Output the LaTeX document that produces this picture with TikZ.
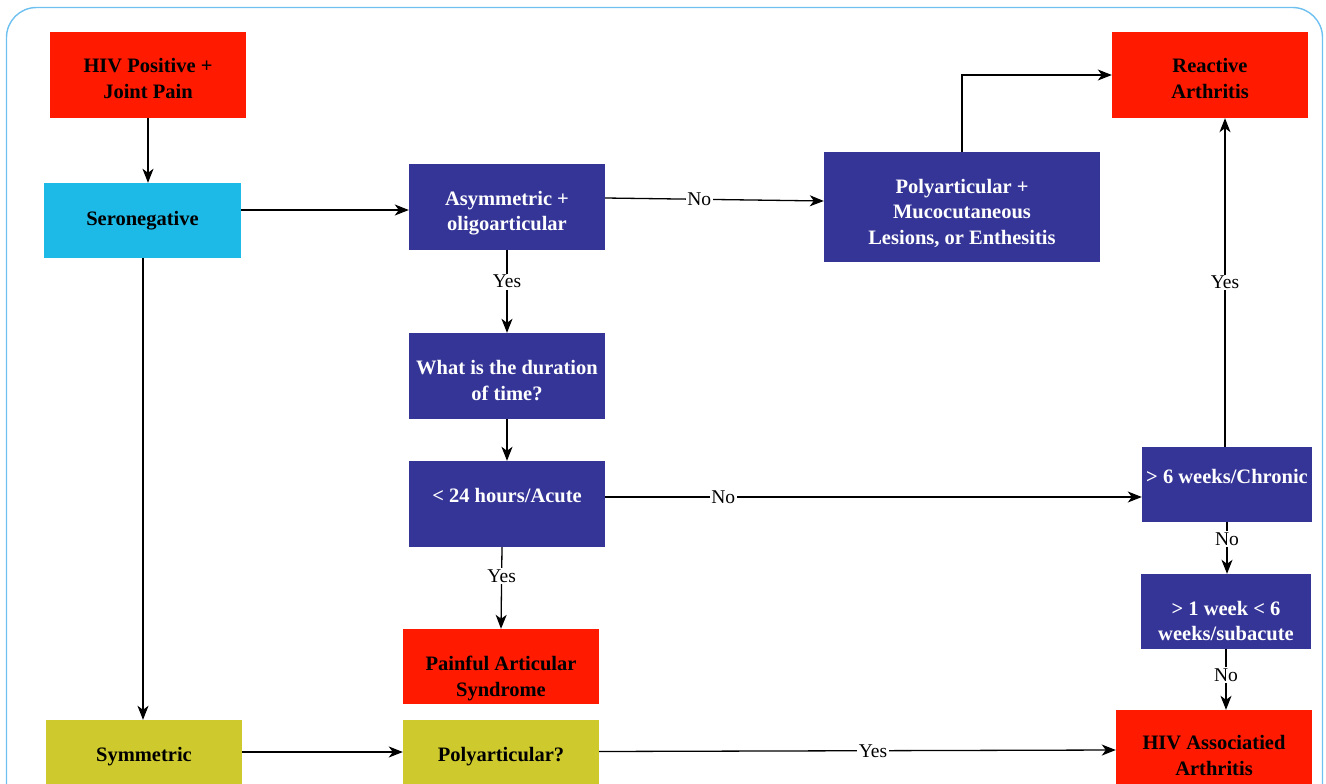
\documentclass[tikz,border=0pt]{standalone}
\usepackage{fontspec}
\setmainfont{Liberation Serif}
\usetikzlibrary{arrows.meta}
\definecolor{cRed}{RGB}{255,26,0}
\definecolor{cCyan}{RGB}{29,186,232}
\definecolor{cBlue}{RGB}{53,53,152}
\definecolor{cOlive}{RGB}{206,201,45}
\definecolor{cBorder}{RGB}{110,192,240}
\tikzset{
  box/.style={inner sep=0pt, align=center, font=\bfseries\fontsize{20.5}{25.5}\selectfont,
              minimum width=196pt, minimum height=86pt, text depth=0pt},
  redbox/.style={box, fill=cRed, text=black},
  cyanbox/.style={box, fill=cCyan, text=black},
  bluebox/.style={box, fill=cBlue, text=white},
  olivebox/.style={box, fill=cOlive, text=black},
  lbl/.style={fill=white, inner sep=1.5pt, font=\fontsize{19.5}{20}\selectfont},
  arr/.style={line width=1.3pt, -{Stealth[length=14pt,width=11pt,inset=4pt]}},
}
\begin{document}
\begin{tikzpicture}[x=1pt,y=-1pt]
\useasboundingbox (0,0) rectangle (1326,784);
\clip (0,0) rectangle (1326,784);
\draw[cBorder, line width=1.4pt, rounded corners=30pt] (6.5,7.5) rectangle (1322.5,840);

\node[redbox, text height=46.6pt] (hiv) at (148,75) {HIV Positive +\\Joint Pain};
\node[cyanbox, minimum width=197pt, minimum height=75pt, text height=9pt] (sero) at (142.5,220.5) {Seronegative};
\node[bluebox, text height=47.4pt] (asym) at (507,207) {Asymmetric +\\oligoarticular};
\node[bluebox, minimum width=276pt, minimum height=110pt, text height=74.6pt] (polym) at (962,207) {Polyarticular +\\Mucocutaneous\\Lesions, or Enthesitis};
\node[redbox, text height=46.6pt] (react) at (1210,75) {Reactive\\Arthritis};
\node[bluebox, text height=48pt] (dur) at (507,376) {What is the duration\\of time?};
\node[bluebox, text height=0pt, text depth=2.6pt] (acute) at (507,504) {< 24 hours/Acute};
\node[bluebox, minimum width=170pt, minimum height=75pt, text height=0pt, text depth=2.4pt] (chronic) at (1227,484.5) {> 6 weeks/Chronic};
\node[bluebox, minimum width=170pt, minimum height=75pt, text height=58pt] (sub) at (1226,611.5) {> 1 week < 6\\weeks/subacute};
\node[redbox, minimum height=75pt, text height=59pt] (painful) at (501,666.5) {Painful Articular\\Syndrome};
\node[redbox, text height=44pt] (hivaa) at (1214,753) {HIV Associatied\\Arthritis};
\node[olivebox, minimum height=75pt, text height=8.4pt] (sym) at (144,757.5) {Symmetric};
\node[olivebox, minimum height=75pt, text height=8.4pt] (polq) at (501,757.5) {Polyarticular?};

\draw[arr] (hiv.south) -- (hiv.south |- sero.north);
\draw[arr] ([yshift=10.5pt]sero.east) -- ([yshift=-3pt]asym.west);
\draw[arr] ([yshift=9pt]asym.east) -- node[lbl, pos=0.43]{No} ([yshift=6pt]polym.west);
\draw[arr] (polym.north) |- (react.west);
\draw[arr] (asym.south) -- node[lbl, pos=0.38]{Yes} (dur.north);
\draw[arr] (dur.south) -- (acute.north);
\draw[arr] ([yshift=7pt]acute.east) -- node[lbl, pos=0.22]{No} ([yshift=-12.5pt]chronic.west);
\draw[arr] ([xshift=-2pt]chronic.north) -- node[lbl]{Yes} ([xshift=15pt]react.south);
\draw[arr] (chronic.south) -- node[lbl, pos=0.32]{No} (chronic.south |- sub.north);
\draw[arr] (sub.south) -- node[lbl, pos=0.43]{No} (sub.south |- hivaa.north);
\draw[arr] ([xshift=-5pt]acute.south) -- node[lbl, pos=0.35]{Yes} (painful.north);
\draw[arr] ([xshift=0.5pt]sero.south) -- ([xshift=-1pt]sym.north);
\draw[arr] ([yshift=5.5pt]sym.east) -- ([yshift=5.5pt]polq.west);
\draw[arr] ([yshift=6pt]polq.east) -- node[lbl, pos=0.53]{Yes} ([yshift=3pt]hivaa.west);
\end{tikzpicture}
\end{document}
